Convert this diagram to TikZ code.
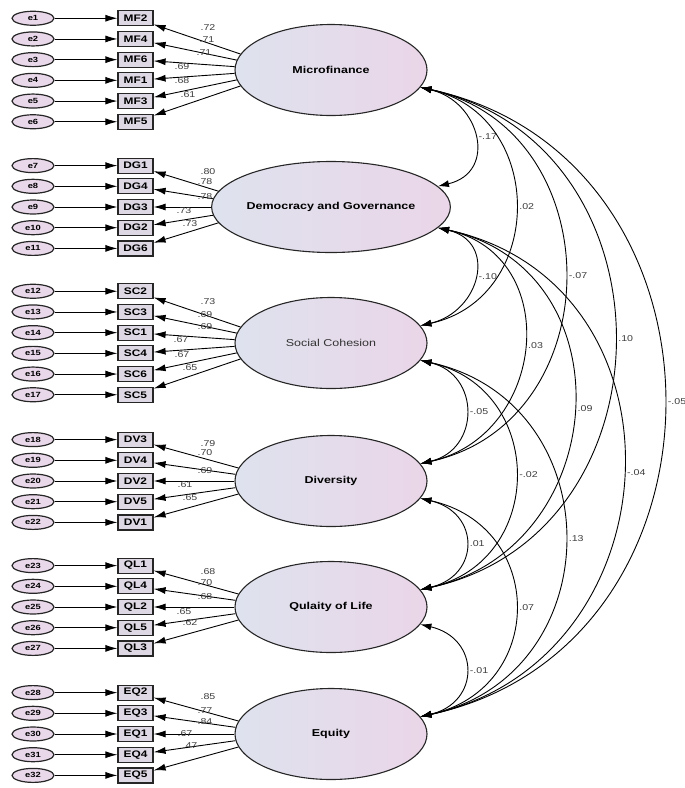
\documentclass[tikz,border=0pt]{standalone}
\usepackage{fontspec}
\setmainfont{Liberation Sans}[FakeStretch=1.25]
\usetikzlibrary{arrows.meta}
\usetikzlibrary{shapes.geometric}
\definecolor{errlavender}{RGB}{233,216,234}
\definecolor{itemgray}{RGB}{222,216,228}
\definecolor{latentblue}{RGB}{222,226,238}
\definecolor{latentpink}{RGB}{234,214,232}
\definecolor{coefgray}{RGB}{60,60,60}
\tikzset{
  errvar/.style={ellipse, draw=black!85, line width=1.2pt, fill=errlavender, minimum width=42pt, minimum height=14pt, inner sep=0pt, font=\fontsize{7.5}{8}\selectfont\bfseries},
  item/.style={rectangle, draw=black!85, line width=1.2pt, fill=itemgray, minimum width=35pt, minimum height=15pt, inner sep=0pt, font=\fontsize{9.5}{10}\selectfont\bfseries},
  latent/.style={ellipse, draw=black!85, line width=1.1pt, left color=latentblue, right color=latentpink, minimum width=192pt, minimum height=91pt, inner sep=0pt, font=\fontsize{10}{12}\selectfont\bfseries},
  regress/.style={line width=0.9pt, -{Latex[length=12pt,width=7pt]}},
  cov/.style={line width=0.9pt, {Latex[length=11pt,width=7pt]}-{Latex[length=11pt,width=7pt]}},
  coef/.style={text=coefgray, font=\fontsize{8.5}{9}\selectfont, inner sep=0pt}
}

\begin{document}
\begin{tikzpicture}[x=1pt, y=-1pt]
\useasboundingbox (0,0) rectangle (685,788);

% latent factors
\node[latent] (MF) at (331,70) {Microfinance};
\node[latent] (DG) at (331,207) {Democracy and Governance};
\node[latent, font=\fontsize{10}{12}\selectfont, text=black!80] (SC) at (331,343) {Social Cohesion};
\node[latent] (DV) at (331,481) {Diversity};
\node[latent] (QL) at (331,607) {Qulaity of Life};
\node[latent] (EQ) at (331,734) {Equity};

% Microfinance items
\foreach \k/\err/\ind/\val/\lx/\ly in {1/e1/MF2/.72/208/-42, 2/e2/MF4/.71/207/-30, 3/e3/MF6/.71/204/-17, 4/e4/MF1/.69/182/-3, 5/e5/MF3/.68/182/11, 6/e6/MF5/.61/188/25}{
  \pgfmathtruncatemacro\ang{180+(\k-3.5)*4}
  \node[errvar] (\err) at (33,{70+(\k-3.5)*20.7}) {\err};
  \node[item] (\ind) at (135.5,{70+(\k-3.5)*20.7}) {\ind};
  \draw[regress] (\err) -- (\ind);
  \draw[regress] (MF.\ang) -- (\ind);
  \node[coef] at (\lx,{70+(\ly)}) {\val};
}

% Democracy and Governance items
\foreach \k/\err/\ind/\val/\lx/\ly in {1/e7/DG1/.80/208/-35, 2/e8/DG4/.78/205/-25, 3/e9/DG3/.78/205/-10, 4/e10/DG2/.73/184/4, 5/e11/DG6/.73/190/17}{
  \pgfmathtruncatemacro\ang{180+(\k-3)*4}
  \node[errvar] (\err) at (33,{207+(\k-3)*20.7}) {\err};
  \node[item] (\ind) at (135.5,{207+(\k-3)*20.7}) {\ind};
  \draw[regress] (\err) -- (\ind);
  \draw[regress] (DG.\ang) -- (\ind);
  \node[coef] at (\lx,{207+(\ly)}) {\val};
}

% Social Cohesion items
\foreach \k/\err/\ind/\val/\lx/\ly in {1/e12/SC2/.73/208/-41, 2/e13/SC3/.69/205/-28, 3/e14/SC1/.69/205/-16, 4/e15/SC4/.67/181/-3, 5/e16/SC6/.67/182/12, 6/e17/SC5/.65/190/25}{
  \pgfmathtruncatemacro\ang{180+(\k-3.5)*4}
  \node[errvar] (\err) at (33,{343+(\k-3.5)*20.7}) {\err};
  \node[item] (\ind) at (135.5,{343+(\k-3.5)*20.7}) {\ind};
  \draw[regress] (\err) -- (\ind);
  \draw[regress] (SC.\ang) -- (\ind);
  \node[coef] at (\lx,{343+(\ly)}) {\val};
}

% Diversity items
\foreach \k/\err/\ind/\val/\lx/\ly in {1/e18/DV3/.79/208/-37, 2/e19/DV4/.70/205/-28, 3/e20/DV2/.69/205/-10, 4/e21/DV5/.61/185/4, 5/e22/DV1/.65/190/17}{
  \pgfmathtruncatemacro\ang{180+(\k-3)*4}
  \node[errvar] (\err) at (33,{481+(\k-3)*20.7}) {\err};
  \node[item] (\ind) at (135.5,{481+(\k-3)*20.7}) {\ind};
  \draw[regress] (\err) -- (\ind);
  \draw[regress] (DV.\ang) -- (\ind);
  \node[coef] at (\lx,{481+(\ly)}) {\val};
}

% Quality of Life items
\foreach \k/\err/\ind/\val/\lx/\ly in {1/e23/QL1/.68/208/-35, 2/e24/QL4/.70/205/-24, 3/e25/QL2/.68/205/-10, 4/e26/QL5/.65/184/5, 5/e27/QL3/.62/190/16}{
  \pgfmathtruncatemacro\ang{180+(\k-3)*4}
  \node[errvar] (\err) at (33,{607+(\k-3)*20.7}) {\err};
  \node[item] (\ind) at (135.5,{607+(\k-3)*20.7}) {\ind};
  \draw[regress] (\err) -- (\ind);
  \draw[regress] (QL.\ang) -- (\ind);
  \node[coef] at (\lx,{607+(\ly)}) {\val};
}

% Equity items
\foreach \k/\err/\ind/\val/\lx/\ly in {1/e28/EQ2/.85/208/-37, 2/e29/EQ3/.77/205/-23, 3/e30/EQ1/.84/205/-12, 4/e31/EQ4/.67/185/0, 5/e32/EQ5/.47/190/12}{
  \pgfmathtruncatemacro\ang{180+(\k-3)*4}
  \node[errvar] (\err) at (33,{734+(\k-3)*20.7}) {\err};
  \node[item] (\ind) at (135.5,{734+(\k-3)*20.7}) {\ind};
  \draw[regress] (\err) -- (\ind);
  \draw[regress] (EQ.\ang) -- (\ind);
  \node[coef] at (\lx,{734+(\ly)}) {\val};
}

% covariances between factors
\foreach \a/\b/\s/\r in {MF/DG/1/-.17, MF/SC/2/.02, MF/DV/3/-.07, MF/QL/4/.10, MF/EQ/5/-.05,
                         DG/SC/1/-.10, DG/DV/2/.03, DG/QL/3/.09, DG/EQ/4/-.04,
                         SC/DV/1/-.05, SC/QL/2/-.02, SC/EQ/3/.13,
                         DV/QL/1/.01, DV/EQ/2/.07,
                         QL/EQ/1/-.01}{
  \pgfmathsetmacro\bulge{60+66*(\s-1)}
  \pgfmathsetmacro\tilt{14*\s}
  \draw[cov] (\a.-11) .. controls +(\bulge,\tilt) and +(\bulge,-\tilt) .. (\b.11)
    node[coef, pos=0.5, right=4pt] {\r};
}
\end{tikzpicture}
\end{document}
